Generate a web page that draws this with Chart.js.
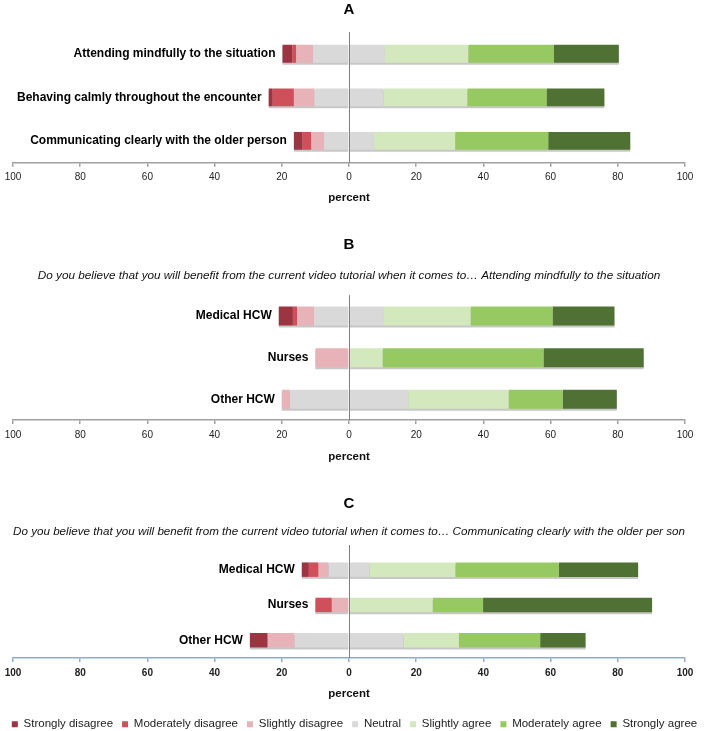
<!DOCTYPE html>
<html><head><meta charset="utf-8">
<script src="https://cdn.jsdelivr.net/npm/chart.js@4.4.1/dist/chart.umd.min.js"></script>
<style>
html,body{margin:0;padding:0;background:#fff;overflow:hidden;width:709px;height:731px;}
canvas{position:absolute;left:0;}
</style></head><body>
<canvas id="cA" width="709" height="207" style="top:0px"></canvas>
<canvas id="cB" width="709" height="236" style="top:230px"></canvas>
<canvas id="cC" width="709" height="250" style="top:490px"></canvas>
<script>
// ---------- data ----------
const responseLevels = ['Strongly disagree','Moderately disagree','Slightly disagree','Neutral','Slightly agree','Moderately agree','Strongly agree'];
const levelColors = ['#9c3541','#cf505b','#e8b3b8','#d9d9d9','#d3e8bd','#97c963','#4f7133'];
const axisTicks = [-100,-80,-60,-40,-20,0,20,40,60,80,100];

const catsA = ['Attending mindfully to the situation','Behaving calmly throughout the encounter','Communicating clearly with the older person'];
const A_strongDis = [3.0, 1.2, 2.6];
const A_modDis    = [1.1, 6.3, 2.6];
const A_slightDis = [5.0, 6.1, 3.8];
const A_neutral   = [21.4, 20.6, 14.8];
const A_slightAg  = [24.8, 24.9, 24.2];
const A_modAg     = [25.5, 23.6, 27.7];
const A_strongAg  = [19.3, 17.2, 24.4];

const catsB = ['Medical HCW','Nurses','Other HCW'];
const B_strongDis = [4.2, 0, 0];
const B_modDis    = [1.3, 0, 0];
const B_slightDis = [5.0, 10.0, 2.4];
const B_neutral   = [20.8, 0, 35.2];
const B_slightAg  = [25.8, 10.0, 29.9];
const B_modAg     = [24.4, 47.9, 16.1];
const B_strongAg  = [18.4, 29.8, 16.1];

const catsC = ['Medical HCW','Nurses','Other HCW'];
const C_strongDis = [2.1, 0, 5.3];
const C_modDis    = [2.9, 4.9, 0];
const C_slightDis = [3.0, 5.1, 8.0];
const C_neutral   = [12.1, 0, 32.4];
const C_slightAg  = [25.6, 24.9, 16.5];
const C_modAg     = [30.8, 15.0, 24.2];
const C_strongAg  = [23.6, 50.3, 13.5];

// ---------- helpers ----------
const SANS = "'Liberation Sans', Arial, sans-serif";
const NARROW = "'Liberation Sans Narrow', 'Arial Narrow', 'Liberation Sans', sans-serif";

function buildDatasets(sd, md, sld, n, sa, ma, sta) {
  const neg = a => a.map(v => v === 0 ? 0 : -v);
  return [
    {label:'Neutral', data: n.map(v => v === 0 ? 0 : -v/2), backgroundColor: levelColors[3]},
    {label:responseLevels[2], data: neg(sld), backgroundColor: levelColors[2]},
    {label:responseLevels[1], data: neg(md), backgroundColor: levelColors[1]},
    {label:responseLevels[0], data: neg(sd), backgroundColor: levelColors[0]},
    {label:responseLevels[3], data: n.map(v => v/2), backgroundColor: levelColors[3]},
    {label:responseLevels[4], data: sa, backgroundColor: levelColors[4]},
    {label:responseLevels[5], data: ma, backgroundColor: levelColors[5]},
    {label:responseLevels[6], data: sta, backgroundColor: levelColors[6]}
  ].map(d => Object.assign(d, {borderWidth:0, stack:'s', barPercentage:1}));
}

const barShadow = {
  id:'barShadow',
  beforeDatasetsDraw(chart){ const c=chart.ctx; c.save(); c.shadowColor='rgba(0,0,0,0.22)'; c.shadowOffsetY=2; c.shadowBlur=0; },
  afterDatasetsDraw(chart){ chart.ctx.restore(); }
};
const zeroLine = {
  id:'zeroLine',
  afterDatasetsDraw(chart, args, opts){
    const {ctx, chartArea, scales:{x}} = chart;
    const px = Math.round(x.getPixelForValue(0)) + 0.5;
    ctx.save(); ctx.strokeStyle='#7f7f7f'; ctx.lineWidth=1;
    ctx.beginPath(); ctx.moveTo(px, chartArea.top - (opts.ext||0)); ctx.lineTo(px, chartArea.bottom); ctx.stroke();
    ctx.restore();
  }
};
const rowLabels = {
  id:'rowLabels',
  afterDatasetsDraw(chart){
    const {ctx, scales:{x, y}} = chart;
    ctx.save();
    ctx.font = 'bold 12px ' + SANS; ctx.fillStyle = '#000';
    ctx.textAlign = 'right'; ctx.textBaseline = 'middle';
    chart.data.labels.forEach((lab, i) => {
      let negSum = 0;
      chart.data.datasets.forEach(ds => { const v = ds.data[i]; if (v < 0) negSum += v; });
      ctx.fillText(lab, x.getPixelForValue(negSum) - 7, y.getPixelForValue(i));
    });
    ctx.restore();
  }
};

function makeChart(id, cats, datasets, cfg) {
  return new Chart(document.getElementById(id), {
    type:'bar',
    data:{labels: cats, datasets},
    plugins:[barShadow, zeroLine, rowLabels],
    options:{
      indexAxis:'y', responsive:false, animation:false, devicePixelRatio:1,
      datasets:{bar:{categoryPercentage: cfg.catPct, barPercentage:1}},
      layout:{padding:0},
      scales:{
        x:{
          stacked:true, min:-100, max:100,
          afterBuildTicks: s => { s.ticks = axisTicks.map(v => ({value:v})); },
          afterFit: s => { s.paddingLeft = 13; s.paddingRight = 24; },
          ticks:{ callback: v => Math.abs(v), color:'#222', padding: cfg.tickPad,
                  font:{family: NARROW, size:10, weight: cfg.tickBold ? 'bold' : 'normal'}, maxRotation:0, autoSkip:false },
          grid:{ drawOnChartArea:false, drawTicks:true, tickLength:4, tickColor: cfg.axisColor, lineWidth:1.5 },
          border:{ display:true, color: cfg.axisColor, width:1.5 },
          title:{ display:true, text:'percent', color:'#111', font:{family:SANS, size:11.5, weight:'bold'},
                  padding:{top: cfg.titlePadTop, bottom: cfg.titlePadBottom} }
        },
        y:{ stacked:true, display:false }
      },
      plugins:{
        title:{ display:true, text: cfg.title, fullSize:false, color:'#000',
                font:{family:SANS, size:15, weight:'bold'}, padding: cfg.titlePad },
        subtitle:{ display: !!cfg.subtitle, text: cfg.subtitle || '', fullSize:false, color:'#111',
                font:{family:SANS, size:11.75, style:'italic'}, padding: cfg.subPad || 0 },
        legend:{ display: !!cfg.legend, position:'bottom',
          labels:{ boxWidth:6, boxHeight:6, padding:9, color:'#222', font:{family:SANS, size:11.5},
            filter: (item) => item.datasetIndex !== 0,
            sort: (a, b) => responseLevels.indexOf(a.text) - responseLevels.indexOf(b.text) } },
        tooltip:{enabled:false},
        zeroLine:{ ext: cfg.zeroExt || 0 }
      }
    }
  });
}

makeChart('cA', catsA, buildDatasets(A_strongDis, A_modDis, A_slightDis, A_neutral, A_slightAg, A_modAg, A_strongAg), {
  title:'A', titlePad:{top:1, bottom:13}, catPct:0.41, tickPad:4.5, axisColor:'#a0a0a0',
  titlePadTop:3.5, titlePadBottom:2
});
makeChart('cB', catsB, buildDatasets(B_strongDis, B_modDis, B_slightDis, B_neutral, B_slightAg, B_modAg, B_strongAg), {
  title:'B', titlePad:{top:5.5, bottom:8.5},
  subtitle:'Do you believe that you will benefit from the current video tutorial when it comes to\u2026 Attending mindfully to the situation',
  subPad:{top:7, bottom:12.1}, catPct:0.457, tickPad:5.5, axisColor:'#a0a0a0',
  titlePadTop:3.1, titlePadBottom:2
});
makeChart('cC', catsC, buildDatasets(C_strongDis, C_modDis, C_slightDis, C_neutral, C_slightAg, C_modAg, C_strongAg), {
  title:'C', titlePad:{top:5, bottom:7},
  subtitle:'Do you believe that you will benefit from the current video tutorial when it comes to\u2026 Communicating clearly with the older per son',
  subPad:{top:5, bottom:12.9}, catPct:0.41, tickPad:5.7, tickBold:true, axisColor:'#8fa9d6',
  titlePadTop:1.8, titlePadBottom:8.6, legend:true, zeroExt:7
});
</script>
</body></html>
